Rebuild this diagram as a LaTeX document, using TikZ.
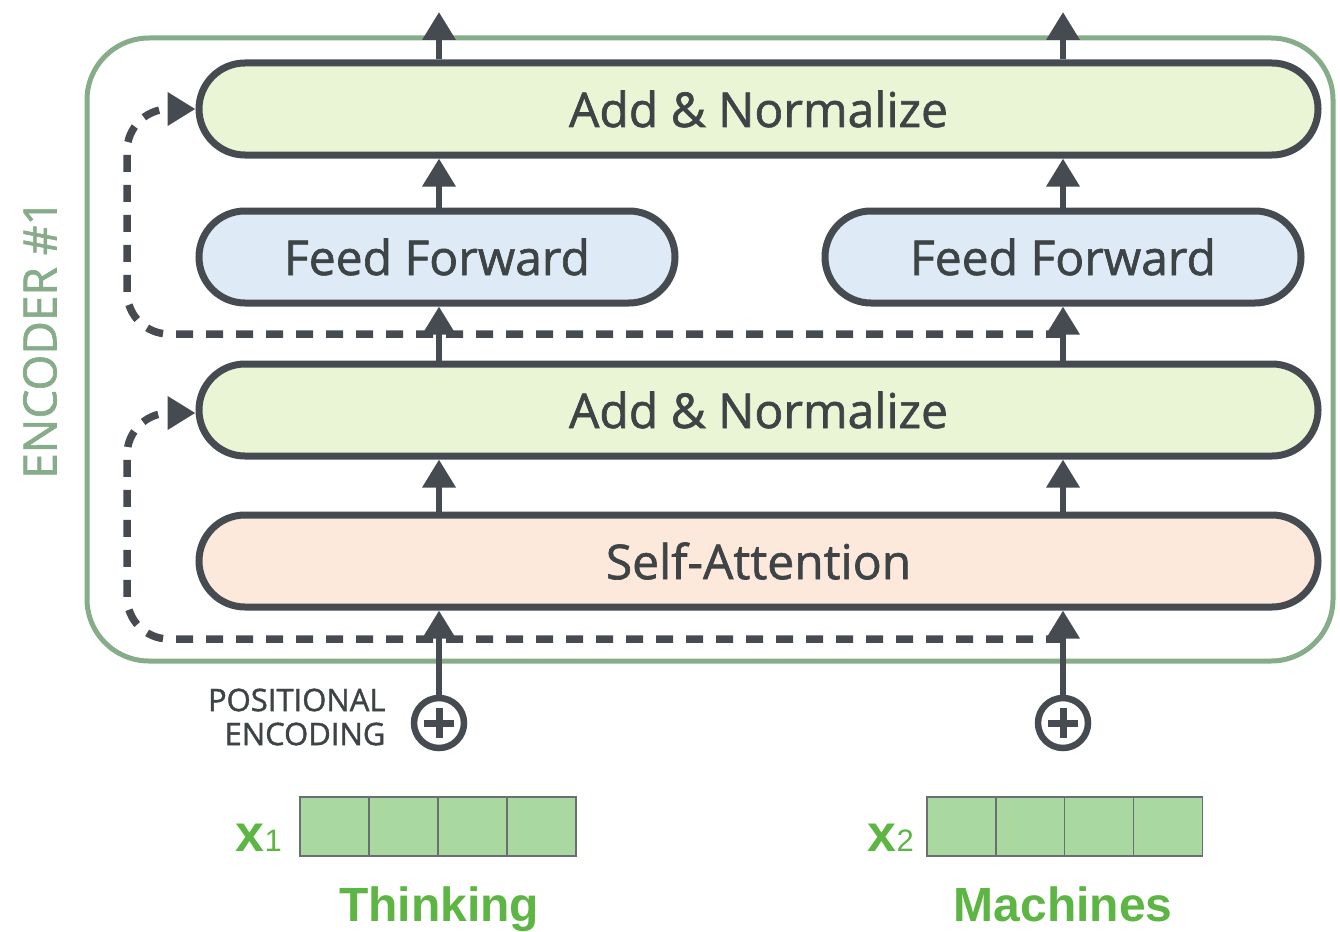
\documentclass[tikz,border=0pt]{standalone}
\usepackage{fontspec}
\setmainfont{Open Sans}
\newfontfamily\osb{Open Sans}[FakeBold=1.3]
\newfontfamily\arialf{Liberation Sans}
\usetikzlibrary{arrows.meta}
\definecolor{dk}{HTML}{464B51}
\definecolor{txt}{HTML}{3E4445}
\definecolor{anfill}{HTML}{EAF5D6}
\definecolor{fffill}{HTML}{DEEBF7}
\definecolor{safill}{HTML}{FCE9DC}
\definecolor{encg}{HTML}{86AC8A}
\definecolor{vecf}{HTML}{A9D8A0}
\definecolor{vect}{HTML}{5DB543}
\tikzset{
  blk/.style={draw=dk, line width=7pt, rounded corners=46pt, minimum height=92pt,
    inner sep=0pt, text=txt, font=\osb\fontsize{48}{56}\selectfont},
  wide/.style={blk, minimum width=1119pt},
  ffbox/.style={blk, fill=fffill, minimum width=476pt},
  flow/.style={draw=dk, line width=6.5pt, -{Triangle[width=32pt,length=28pt]}},
  resid/.style={draw=dk, line width=7.5pt, dash pattern=on 17pt off 13pt, rounded corners=42pt,
    -{Triangle[width=32pt,length=28pt]}},
  plus/.style={circle, draw=dk, line width=6.5pt, minimum size=50pt, inner sep=0pt},
  cell/.style={draw=dk!80, line width=1.5pt, fill=vecf, minimum width=69pt, minimum height=59pt, inner sep=0pt},
  word/.style={text=vect, font=\arialf\bfseries\fontsize{48}{56}\selectfont, anchor=base},
}
\begin{document}
\begin{tikzpicture}[x=1pt,y=-1pt]
\useasboundingbox (0,0) rectangle (1340,931);
% encoder frame
\draw[encg, line width=5pt, rounded corners=62pt] (87,38) rectangle (1333,661);
\node[rotate=90, text=encg, font=\osb\fontsize{46}{52}\selectfont] (enc) at (40,339) {ENCODER \#1};
% blocks
\node[wide, fill=anfill] (an1) at (758.5,109) {Add \& Normalize};
\node[ffbox] (ffl) at (437,257) {Feed Forward};
\node[ffbox] (ffr) at (1063,257) {Feed Forward};
\node[wide, fill=anfill] (an2) at (758.5,410) {Add \& Normalize};
\node[wide, fill=safill] (sa) at (758.5,561) {Self-Attention};
% plus nodes
\node[plus] (pl) at (439,723) {};
\node[plus] (pr) at (1063,723) {};
\foreach \p in {pl,pr}{
  \draw[dk, line width=7pt] ([xshift=-15pt]\p.center) -- ([xshift=15pt]\p.center);
  \draw[dk, line width=7pt] ([yshift=-15pt]\p.center) -- ([yshift=15pt]\p.center);
}
\node[anchor=east, text=txt, align=right, font=\osb\fontsize{31}{34}\selectfont] (pe) at (389,717) {POSITIONAL\\ENCODING};
% coordinates
\coordinate (tl) at (439,12);
\coordinate (tr) at (1063,12);
\coordinate (dl) at (439,639);
\coordinate (dr) at (1063,639);
\coordinate (ul) at (439,334);
\coordinate (ur) at (1063,334);
% residual dashed
\draw[resid] (dr) -| (127,413) -- (an2.west |- 0,413);
\draw[resid] (ur) -| (127,109) -- (an1.west);
% vertical flows
\draw[flow] (pl.north) -- (pl.north |- sa.south);
\draw[flow] (pr.north) -- (pr.north |- sa.south);
\draw[flow] (ul |- sa.north) -- (ul |- an2.south);
\draw[flow] (ur |- sa.north) -- (ur |- an2.south);
\draw[flow] (ul |- an2.north) -- (ffl.south -| ul);
\draw[flow] (ur |- an2.north) -- (ffr.south -| ur);
\draw[flow] (ffl.north -| ul) -- (ul |- an1.south);
\draw[flow] (ffr.north -| ur) -- (ur |- an1.south);
\draw[flow] (ul |- an1.north) -- (tl);
\draw[flow] (ur |- an1.north) -- (tr);
% vectors
\foreach \i in {0,1,2,3}{
  \node[cell] (xa\i) at ({334.5+69*\i},826.5) {};
  \node[cell] (xb\i) at ({961.5+68.75*\i},826.5) {};
}
\node[anchor=base east, text=vect, inner sep=0pt] (x1) at (282,851)
  {\arialf\bfseries\fontsize{52}{56}\selectfont x\fontsize{31}{34}\mdseries 1};
\node[anchor=base east, text=vect, inner sep=0pt] (x2) at (914,851)
  {\arialf\bfseries\fontsize{52}{56}\selectfont x\fontsize{31}{34}\mdseries 2};
\node[word] (w1) at (439,921) {Thinking};
\node[word] (w2) at (1063,921) {Machines};
\end{tikzpicture}
\end{document}
